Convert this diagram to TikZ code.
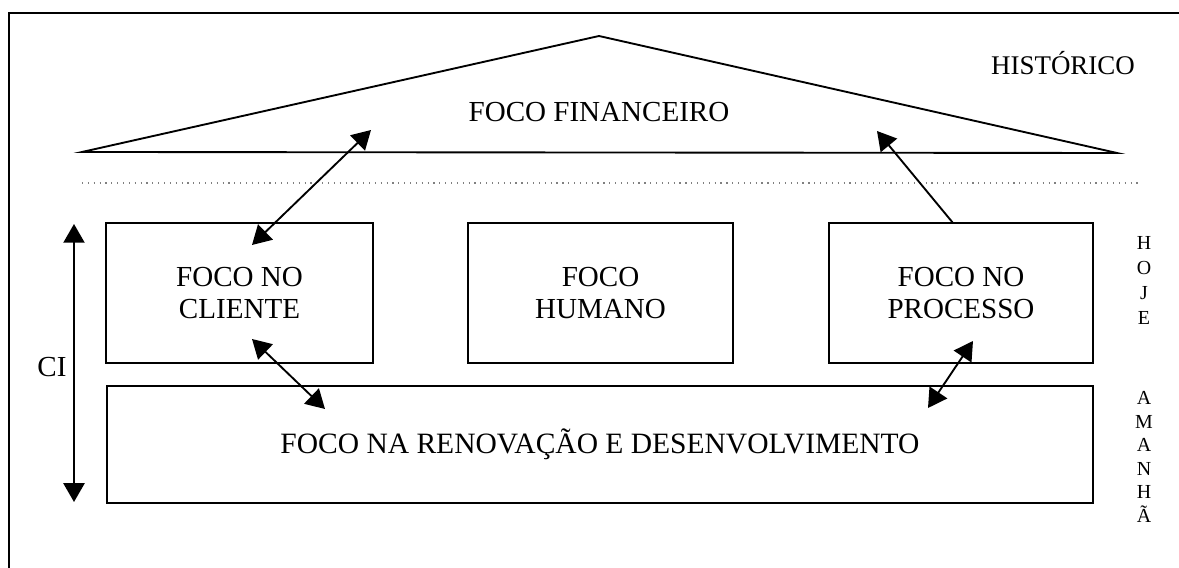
\documentclass[tikz,border=0pt]{standalone}
\usepackage{fontspec}
\setmainfont{Liberation Serif}
\usetikzlibrary{arrows.meta,positioning}

\begin{document}
\begin{tikzpicture}[x=1.5cm,y=1.5cm, >={Triangle[length=8pt,width=9pt]},
    every node/.style={font=\fontsize{12.4}{14}\selectfont},
    box/.style={draw, line width=0.8pt, align=center, inner sep=0pt},
    side/.style={align=center, inner sep=0pt, anchor=south},
    link/.style={line width=0.8pt, <->},
    tip/.style={line width=0.8pt, ->}]
    \useasboundingbox (0,0) rectangle (11.79,5.68);

    % Frame
    \draw[line width=0.8pt] (0.09,0) -- (0.09,5.55) -- (11.79,5.55);

    % Roof
    \coordinate (roofL) at (0.82,4.16);
    \coordinate (roofT) at (5.99,5.32);
    \coordinate (roofR) at (11.17,4.15);
    \draw[line width=0.8pt] (roofL) -- (roofT) -- (roofR) -- cycle;
    \node (fin) at (5.99,4.56) {FOCO FINANCEIRO};
    \node[font=\fontsize{11.5}{13}\selectfont] (hist) at (10.63,5.05) {HISTÓRICO};

    \draw[dotted, gray, line width=0.5pt] (0.82,3.85) -- (11.38,3.85);

    % Pillars
    \node[box, minimum width=4cm, minimum height=2.1cm] (cli) at (2.395,2.75) {FOCO NO\\CLIENTE};
    \node[box, minimum width=3.98cm, minimum height=2.1cm] (hum) at (6.005,2.75) {FOCO\\HUMANO};
    \node[box, minimum width=3.96cm, minimum height=2.1cm] (proc) at (9.61,2.75) {FOCO NO\\PROCESSO};

    % Base
    \node[box, minimum width=14.79cm, minimum height=1.755cm, font=\fontsize{12.6}{14}\selectfont] (ren) at (6.0,1.235) {FOCO NA RENOVAÇÃO E DESENVOLVIMENTO};

    % Arrow ends
    \coordinate (finL) at (3.71,4.38);
    \coordinate (finR) at (8.77,4.37);
    \coordinate (cliTop) at (2.52,3.23);
    \coordinate (cliBot) at (2.52,2.29);
    \coordinate (renL) at (3.25,1.59);
    \coordinate (procBot) at (9.73,2.27);
    \coordinate (renR) at (9.28,1.60);
    \coordinate (procTop) at (9.53,3.45);

    \draw[link] (cliTop) -- (finL);
    \draw[link] (cliBot) -- (renL);
    \draw[link] (procBot) -- (renR);
    \draw[tip] (procTop) -- (finR);

    % CI
    \coordinate (ciTop) at (0.74,3.44);
    \coordinate (ciBot) at (0.74,0.66);
    \draw[link] (ciTop) -- (ciBot);
    \node (ci) at (0.52,2.01) {CI};

    % Time labels
    \node[side, font=\fontsize{8.5}{10.6}\selectfont] (hoje) at (11.44,2.435) {H\\O\\J\\E};
    \node[side, font=\fontsize{8.5}{10}\selectfont] (amanha) at (11.44,0.455) {A\\M\\A\\N\\H\\Ã};
\end{tikzpicture}
\end{document}
